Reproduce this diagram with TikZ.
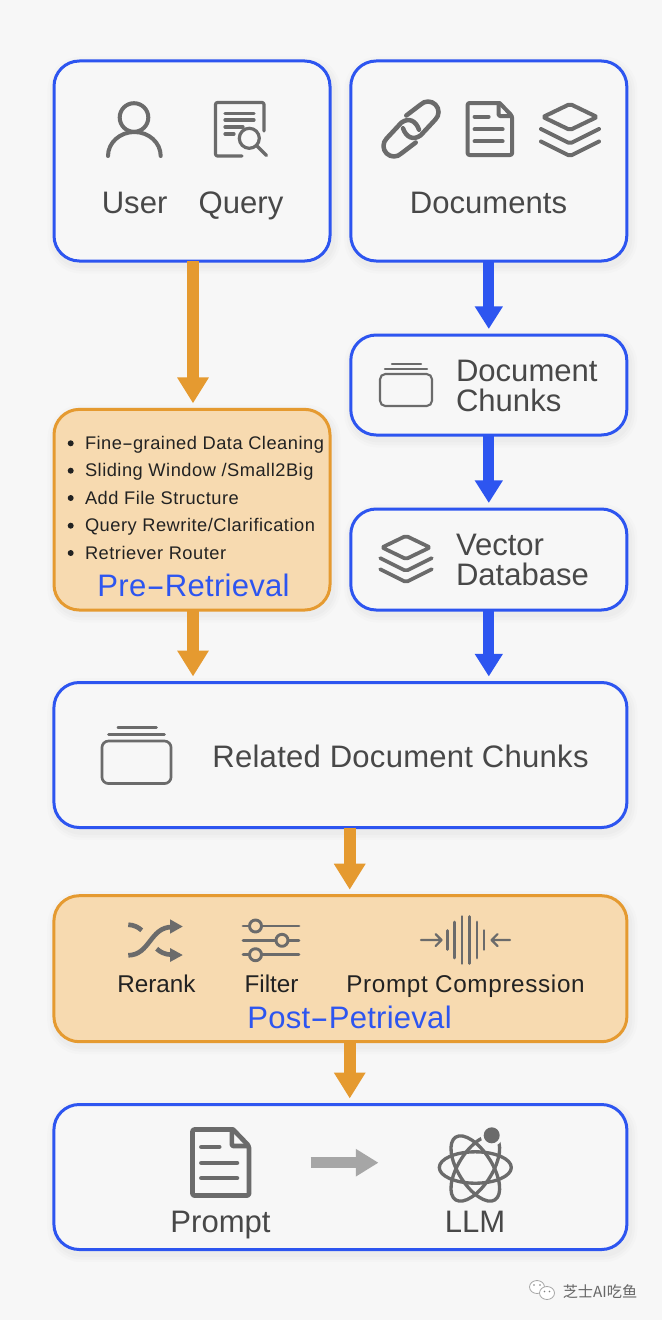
\documentclass[tikz,border=0pt]{standalone}
\usepackage{graphicx}
\usepackage{fontspec}
\setmainfont{Liberation Sans}
\newfontfamily\cjkfont{Noto Sans CJK SC}
\usetikzlibrary{arrows.meta,calc}
\definecolor{bgc}{HTML}{F7F7F7}
\definecolor{blueln}{HTML}{2D55F0}
\definecolor{orangeln}{HTML}{E59A30}
\definecolor{orangefill}{HTML}{F7DAB0}
\definecolor{iconc}{HTML}{6B6B6B}
\definecolor{textc}{HTML}{484848}
\definecolor{darktext}{HTML}{222222}
\definecolor{grayarrow}{HTML}{A6A6A6}
\newcommand\fpx[1]{\fontsize{#1}{#1}\selectfont}
\newcommand\widehy{\scalebox{1.8}[1]{-}}
\tikzset{
  softshadow/.style={
    preaction={draw=black,draw opacity=.012,line width=13pt,transform canvas={xshift=1.5pt,yshift=-3pt}},
    preaction={draw=black,draw opacity=.014,line width=9pt,transform canvas={xshift=1.5pt,yshift=-3pt}},
    preaction={draw=black,draw opacity=.016,line width=5pt,transform canvas={xshift=1.5pt,yshift=-3pt}}},
  basebox/.style={rectangle,rounded corners=19pt,line width=2.25pt,inner sep=0pt,outer sep=0pt,softshadow},
  bluebox/.style={basebox,draw=blueln,fill=bgc},
  orangebox/.style={basebox,draw=orangeln,fill=orangefill},
  barrow/.style={line width=8pt,draw=blueln,-{Triangle[length=17pt,width=20pt]},shorten >=4.5pt},
  oarrow/.style={line width=9.3pt,draw=orangeln,-{Triangle[length=19.5pt,width=22.5pt]},shorten >=4.5pt},
  garrow/.style={line width=8.4pt,draw=grayarrow,-{Triangle[length=17pt,width=19.5pt]}},
  bigtxt/.style={inner sep=0pt,outer sep=0pt,text=textc,font=\fpx{23.3pt}},
  midtxt/.style={inner sep=0pt,outer sep=0pt,text=darktext,font=\fpx{18.2pt}},
  listtxt/.style={inner sep=0pt,outer sep=0pt,text=darktext,anchor=base west,font=\fpx{13.7pt}\addfontfeatures{LetterSpace=2.8}},
  titletxt/.style={inner sep=0pt,outer sep=0pt,text=blueln,font=\fpx{23.3pt}\addfontfeatures{LetterSpace=.8}},
  icon/.style={draw=iconc,line cap=round,line join=round},
}
\newcommand\layersicon[1]{%
  \draw[icon,line width=#1,rounded corners=1.5pt] (0,-26) -- (27,-13) -- (0,0) -- (-27,-13) -- cycle;
  \draw[icon,line width=#1,rounded corners=1.5pt] (-29,-1) -- (0,13.5) -- (29,-1);
  \draw[icon,line width=#1,rounded corners=1.5pt] (-29,11.5) -- (0,26) -- (29,11.5);
}
\newcommand\docicon[1]{%
  \draw[icon,line width=#1,rounded corners=1.5pt] (32,0) -- (0,0) -- (0,52) -- (44.5,52) -- (44.5,13) -- (32,0);
  \draw[icon,line width=#1,rounded corners=1pt] (31,0.5) -- (31,13) -- (44,13);
  \draw[icon,line width=#1] (7,13.7) -- (21,13.7) (7,26.3) -- (35,26.3) (7,38.3) -- (35,38.3);
}
\newcommand\chunksicon[2]{%
  \draw[icon,line width=#1,rounded corners=#2] (-26,0) rectangle (26,32);
  \draw[icon,line width=#1] (-21,-5) -- (21,-5) (-14,-10) -- (15,-10);
}
\newcommand\listitem[3]{%
  \fill[darktext] (70.7,#1-6) circle (3);
  \node[listtxt] (#2) at (85,#1) {#3};
}
\begin{document}
\begin{tikzpicture}[x=.75pt,y=-.75pt]
\useasboundingbox (0,0) rectangle (662,1320);
\fill[bgc] (0,0) rectangle (662,1320);

% boxes
\node[bluebox,minimum width=207pt,minimum height=150pt] (user) at (192,161) {};
\node[bluebox,minimum width=207pt,minimum height=150pt] (docs) at (488.8,161) {};
\node[bluebox,minimum width=207pt,minimum height=75pt] (chunks) at (488.8,385) {};
\node[bluebox,minimum width=207pt,minimum height=75.75pt] (vector) at (488.8,559.5) {};
\node[orangebox,minimum width=207pt,minimum height=150.5pt] (pre) at (192,509.7) {};
\node[bluebox,minimum width=429.75pt,minimum height=108.75pt] (related) at (340.4,755) {};
\node[orangebox,minimum width=429.75pt,minimum height=109.5pt] (post) at (340.4,968.7) {};
\node[bluebox,minimum width=429.75pt,minimum height=108.75pt] (final) at (340.4,1177) {};

% connectors
\draw[oarrow] ([xshift=.75pt]user.south) -- ([xshift=.75pt]pre.north);
\draw[barrow] (docs.south) -- (chunks.north);
\draw[barrow] (chunks.south) -- (vector.north);
\draw[barrow] (vector.south) -- (vector.south |- related.north);
\draw[oarrow] ([xshift=.75pt]pre.south) -- ([xshift=.75pt]pre.south |- related.north);
\draw[oarrow] ([xshift=7pt]related.south) -- ([xshift=7pt]post.north);
\draw[oarrow] ([xshift=7pt]post.south) -- ([xshift=7pt]final.north);
\coordinate (ga) at (310.7,1162.7);
\coordinate (gb) at (378.5,1162.7);
\draw[garrow] (ga) -- (gb);

% user icon
\draw[icon,line width=3pt] (134,117.5) circle (14.3);
\draw[icon,line width=3pt] (108,156) arc[start angle=180,end angle=360,x radius=26.35,y radius=24];
% query icon
\draw[icon,line width=2.4pt,rounded corners=1.5pt] (264,131) -- (264,102.5) -- (215.5,102.5) -- (215.5,156) -- (242,156);
\draw[icon,line width=2.4pt] (225,113.3) -- (254,113.3);
\draw[icon,line width=2.4pt] (225,120) -- (254,120);
\draw[icon,line width=2.4pt] (225,127) -- (243,127);
\draw[icon,line width=2.4pt] (225,134) -- (234,134);
\draw[icon,line width=2.4pt] (249.3,138.3) circle (10);
\draw[icon,line width=2.4pt] (256.5,145.5) -- (266.5,155.5);
% link icon
\draw[icon,line width=3.4pt] (406.3,115.5) -- (420.6,104.6) arc[start angle=225,end angle=405,radius=10.5] -- (420.7,135.3) .. controls (413,141) and (406,137) .. (403,128.3);
\draw[icon,line width=3.4pt] (415.7,142.5) -- (401.4,153.4) arc[start angle=45,end angle=225,radius=10.5] -- (401.3,122.7) .. controls (409,117) and (416,121) .. (419,129.7);
% document icon
\begin{scope}[shift={(467.6,103)}]\docicon{3pt}\end{scope}
% layers icon
\begin{scope}[shift={(570,130)}]\layersicon{3pt}\end{scope}
% chunks
\begin{scope}[shift={(406,374)}]\chunksicon{1.6pt}{4pt}\end{scope}
% vector layers
\begin{scope}[shift={(406,559)},scale=.89]\layersicon{2.8pt}\end{scope}
% related chunks
\begin{scope}[shift={(136.5,741)},scale=1.33]\chunksicon{2pt}{5pt}\end{scope}

% labels
\node[bigtxt,anchor=base] (tuser) at (134.6,213) {User};
\node[bigtxt,anchor=base] (tquery) at (241,213) {Query};
\node[bigtxt,anchor=base] (tdocs) at (488.5,213) {Documents};
\node[bigtxt,anchor=base west] (tdc1) at (456,381) {Document};
\node[bigtxt,anchor=base west] (tdc2) at (456,411.5) {Chunks};
\node[bigtxt,anchor=base west] (tvd1) at (456,555) {Vector};
\node[bigtxt,anchor=base west] (tvd2) at (456,585.5) {Database};
\node[bigtxt,anchor=base,font=\fpx{23.3pt}\addfontfeatures{LetterSpace=.8}] (trel) at (400.5,767.5) {Related Document Chunks};

% pre list
\listitem{449.3}{l1}{Fine\widehy grained Data Cleaning}
\listitem{476.7}{l2}{Sliding Window /Small2Big}
\listitem{504}{l3}{Add File Structure}
\listitem{531.7}{l4}{Query Rewrite/Clarification}
\listitem{559}{l5}{Retriever Router}
\node[titletxt,anchor=base] (tpre) at (193.5,596) {Pre\widehy Retrieval};

% post icons
\draw[icon,line width=3.5pt,line cap=butt] (128.3,955.3) .. controls (150,955) and (150,927) .. (172,927);
\draw[icon,line width=3.5pt,line cap=butt] (128.3,924.7) .. controls (134,925) and (138,927) .. (141.7,930.3);
\draw[icon,line width=3.5pt,line cap=butt] (156.7,948.7) .. controls (160,952) and (165,954.7) .. (172,954.7);
\fill[iconc] (170,919.3) -- (182.7,926.5) -- (170,933.7) -- cycle;
\fill[iconc] (170,948) -- (182.7,955) -- (170,962) -- cycle;

\foreach \yy/\xc in {926/255.5,940.3/282,954.7/255.5}{
  \draw[icon,line width=2.2pt] (243,\yy) -- (299,\yy);
  \fill[orangefill] (\xc,\yy) circle (6);
  \draw[icon,line width=2.2pt] (\xc,\yy) circle (6);
}
\draw[icon,line width=1.6pt] (421,940) -- (441.5,940) (435.5,934) -- (441.5,940) -- (435.5,946);
\draw[icon,line width=1.6pt] (510,940) -- (491.5,940) (497.5,934) -- (491.5,940) -- (497.5,946);
\foreach \xx/\hh in {447.6/9.5,454.5/18,462/23.5,469.5/23.5,477/18,484/9.5}{
  \draw[icon,line width=2.2pt] (\xx,940-\hh) -- (\xx,940+\hh);
}
\node[midtxt,anchor=base] (trr) at (156.5,992.5) {Rerank};
\node[midtxt,anchor=base] (tfi) at (271.5,992.5) {Filter};
\node[midtxt,anchor=base,font=\fpx{18.2pt}\addfontfeatures{LetterSpace=2.7}] (tpc) at (465.5,992.5) {Prompt Compression};
\node[titletxt,anchor=base] (tpost) at (349.5,1028) {Post\widehy Petrieval};

% prompt doc and atom
\begin{scope}[shift={(475.3,1167.5)},line width=2.5pt]
  \draw[icon] (0,0) ellipse [x radius=36,y radius=15.7];
  \draw[icon,yshift=-.75pt,rotate=58] (0,0) ellipse [x radius=37,y radius=17];
  \draw[icon,yshift=-.75pt,rotate=-58] (0,0) ellipse [x radius=37,y radius=17];
\end{scope}
\begin{scope}[shift={(192.5,1129.5)},scale=1.27]\docicon{3.5pt}\end{scope}
\fill[bgc] (491.7,1135.3) circle (11);
\fill[iconc] (491.7,1135.3) circle (8);
\node[bigtxt,anchor=base] (tprompt) at (220.5,1232.5) {Prompt};
\node[bigtxt,anchor=base] (tllm) at (475,1232.5) {LLM};

% watermark
\begin{scope}[line width=.6pt]
  \draw[gray!70,fill=white] (537,1287) ellipse [x radius=7.5,y radius=6.5];
  \draw[gray!70,fill=white] (547,1293) ellipse [x radius=7.5,y radius=6.5];
  \fill[gray] (534,1285) circle (.9) (540,1285) circle (.9) (544.5,1291.5) circle (.9) (549.5,1291.5) circle (.9);
\end{scope}
\node[inner sep=0pt,anchor=west,text=black!60,font=\cjkfont\fpx{11.4pt}] (wm) at (562.5,1292) {芝士AI吃鱼};
\end{tikzpicture}
\end{document}
